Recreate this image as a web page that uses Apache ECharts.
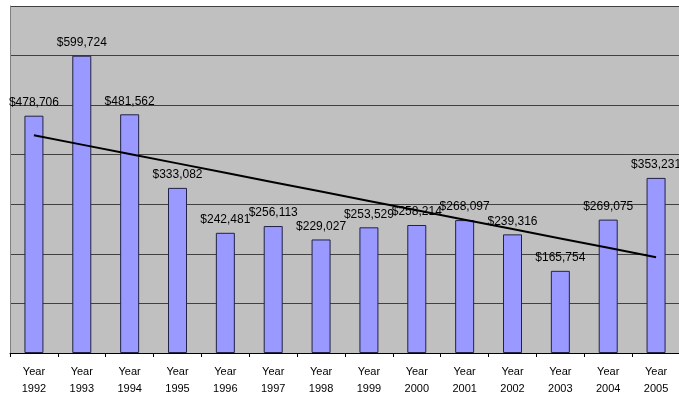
<!DOCTYPE html>
<html>
<head>
<meta charset="utf-8">
<script src="https://cdn.jsdelivr.net/npm/echarts@6/dist/echarts.min.js"></script>
<style>
  html, body { margin: 0; padding: 0; background: #ffffff; }
  #chart { width: 679px; height: 393px; }
</style>
</head>
<body>
<div id="chart"></div>
<script>
// Annual totals, 1992-2005
const years = ['1992', '1993', '1994', '1995', '1996', '1997', '1998',
               '1999', '2000', '2001', '2002', '2003', '2004', '2005'];
const amounts = [478706, 599724, 481562, 333082, 242481, 256113, 229027,
                 253529, 258214, 268097, 239316, 165754, 269075, 353231];

// Least-squares linear trend across the years
function linearTrend(values) {
  const n = values.length;
  const xMean = (n - 1) / 2;
  const yMean = values.reduce((a, b) => a + b, 0) / n;
  let sxy = 0, sxx = 0;
  values.forEach((v, i) => { sxy += (i - xMean) * (v - yMean); sxx += (i - xMean) * (i - xMean); });
  const slope = sxy / sxx;
  return values.map((_, i) => yMean + slope * (i - xMean));
}
const trend = linearTrend(amounts);

const fmt = v => '$' + v.toLocaleString('en-US');

const chart = echarts.init(document.getElementById('chart'), null, { renderer: 'canvas' });
chart.setOption({
  animation: false,
  backgroundColor: '#ffffff',
  textStyle: { fontFamily: 'Liberation Sans, Arial, sans-serif' },
  grid: {
    left: 10, right: -1, top: 6, bottom: 40,
    containLabel: false, outerBoundsMode: 'none',
    show: true, backgroundColor: '#c0c0c0', borderWidth: 0
  },
  xAxis: {
    type: 'category',
    data: years,
    boundaryGap: true,
    axisLine: { lineStyle: { color: '#000000', width: 1 } },
    axisTick: { show: true, length: 4, alignWithLabel: false, lineStyle: { color: '#000000' } },
    axisLabel: {
      interval: 0,
      margin: 10,
      fontSize: 11,
      lineHeight: 17,
      color: '#000000',
      formatter: y => 'Year\n' + y
    }
  },
  yAxis: {
    type: 'value',
    min: 0,
    max: 700000,
    interval: 100000,
    axisLabel: { show: false },
    axisTick: { show: false },
    axisLine: { show: true, lineStyle: { color: '#808080', width: 1 } },
    splitLine: { show: true, lineStyle: { color: '#404040', width: 1 } }
  },
  series: [
    {
      type: 'bar',
      data: amounts,
      barWidth: 19,
      itemStyle: { color: '#9999ff', borderColor: '#222244', borderWidth: 1 },
      label: {
        show: true,
        position: 'top',
        distance: 7,
        fontSize: 12,
        color: '#000000',
        formatter: p => fmt(p.value)
      },
      z: 2
    },
    {
      type: 'line',
      data: trend,
      showSymbol: false,
      symbol: 'none',
      lineStyle: { color: '#000000', width: 2 },
      silent: true,
      z: 5
    }
  ]
});
</script>
</body>
</html>
